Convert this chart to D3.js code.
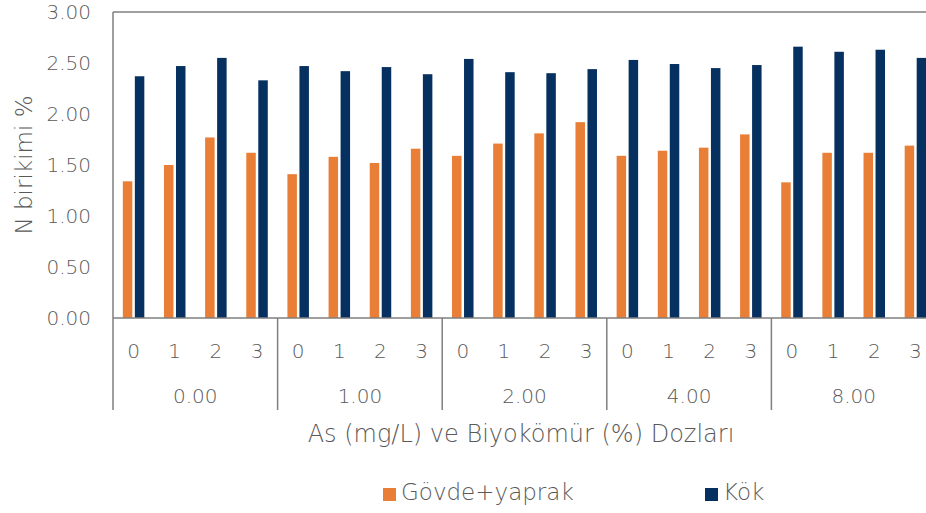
<!DOCTYPE html>
<html>
<head>
<meta charset="utf-8">
<script src="https://cdn.jsdelivr.net/npm/d3@7"></script>
<style>
  html, body { margin: 0; padding: 0; background: #fff; }
  svg { display: block; }
  text { font-family: "DejaVu Sans", sans-serif; font-weight: 300; fill: #595959; }
</style>
</head>
<body>
<svg id="chart" width="926" height="513"></svg>
<script>
// ---- data ----
const groups = ["0.00", "1.00", "2.00", "4.00", "8.00"];
const subcats = ["0", "1", "2", "3"];
const seriesNames = ["Gövde+yaprak", "Kök"];
const govde = [1.34, 1.50, 1.77, 1.62, 1.41, 1.58, 1.52, 1.66, 1.59, 1.71, 1.81, 1.92, 1.59, 1.64, 1.67, 1.80, 1.33, 1.62, 1.62, 1.69];
const kok   = [2.37, 2.47, 2.55, 2.33, 2.47, 2.42, 2.46, 2.39, 2.54, 2.41, 2.40, 2.44, 2.53, 2.49, 2.45, 2.48, 2.66, 2.61, 2.63, 2.55];
const yTicks = [0, 0.5, 1.0, 1.5, 2.0, 2.5, 3.0];
const colors = ["#E97E36", "#06305F"];

// ---- layout ----
const svg = d3.select("#chart");
const pLeft = 113, pRight = 936, pTop = 12, pBottom = 318;
const axisColor = "#7f7f7f";

const keys = [];
groups.forEach((g, gi) => subcats.forEach((s, si) => keys.push(gi + "-" + si)));

const x = d3.scaleBand().domain(keys).range([pLeft, pRight]).padding(0);
const xs = d3.scaleBand().domain(seriesNames).range([-10.75, 10.75]).paddingInner(0.21);
const y = d3.scaleLinear().domain([0, 3]).range([pBottom, pTop]);
const xg = d3.scaleBand().domain(groups).range([pLeft, pRight]).padding(0);

// bars
const data = keys.map((k, i) => ({ key: k, vals: [govde[i], kok[i]] }));
const barG = svg.append("g");
data.forEach(d => {
  d.vals.forEach((v, si) => {
    barG.append("rect")
      .attr("x", x(d.key) + x.bandwidth() / 2 + xs(seriesNames[si]))
      .attr("width", xs.bandwidth())
      .attr("y", y(v))
      .attr("height", y(0) - y(v))
      .attr("fill", colors[si]);
  });
});

// plot frame: top and left
svg.append("line").attr("x1", pLeft).attr("x2", pRight).attr("y1", pTop).attr("y2", pTop)
  .attr("stroke", axisColor).attr("stroke-width", 1.5);
svg.append("line").attr("x1", pLeft).attr("x2", pLeft).attr("y1", pTop).attr("y2", 410)
  .attr("stroke", axisColor).attr("stroke-width", 1.5);
// x axis line
svg.append("line").attr("x1", pLeft).attr("x2", pRight).attr("y1", pBottom).attr("y2", pBottom)
  .attr("stroke", axisColor).attr("stroke-width", 1.5);

// y axis labels
const yAxis = d3.axisLeft(y).tickValues(yTicks).tickFormat(d3.format(".2f")).tickSize(0).tickPadding(22);
const yg = svg.append("g").attr("transform", `translate(${pLeft},0)`).call(yAxis);
yg.select(".domain").remove();
yg.selectAll("text").style("font-size", "20px").attr("fill", "#595959")
  .style("font-family", "DejaVu Sans, sans-serif").style("font-weight", "300");

// sub-category labels
keys.forEach((k, i) => {
  svg.append("text")
    .attr("x", x(k) + x.bandwidth() / 2)
    .attr("y", 358)
    .attr("text-anchor", "middle")
    .style("font-size", "20px")
    .text(subcats[i % subcats.length]);
});
// group separators and labels
groups.forEach((g, gi) => {
  if (gi > 0) {
    svg.append("line").attr("x1", xg(g)).attr("x2", xg(g)).attr("y1", pBottom).attr("y2", 410)
      .attr("stroke", axisColor).attr("stroke-width", 1.5);
  }
  svg.append("text")
    .attr("x", xg(g) + xg.bandwidth() / 2)
    .attr("y", 403)
    .attr("text-anchor", "middle")
    .style("font-size", "20px")
    .text(g);
});

// axis titles
svg.append("text").attr("x", 521).attr("y", 442).attr("text-anchor", "middle")
  .style("font-size", "24px").text("As (mg/L) ve Biyokömür (%) Dozları");
svg.append("text").attr("transform", `translate(32,${(pTop + pBottom) / 2}) rotate(-90)`)
  .attr("text-anchor", "middle").style("font-size", "23px").text("N birikimi %");

// legend
const legendX = [383, 705];
seriesNames.forEach((n, i) => {
  svg.append("rect").attr("x", legendX[i]).attr("y", 488).attr("width", 13).attr("height", 13).attr("fill", colors[i]);
  svg.append("text").attr("x", legendX[i] + 18).attr("y", 500).style("font-size", "23px").text(n);
});
</script>
</body>
</html>
